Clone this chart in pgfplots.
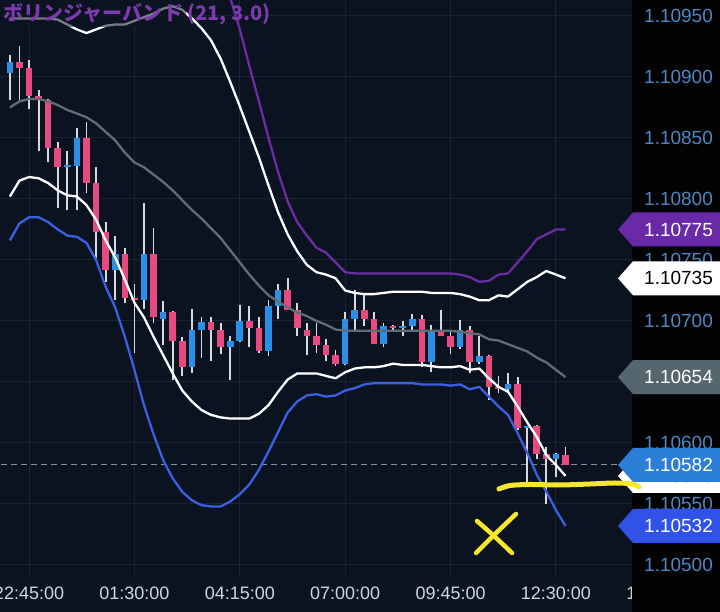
\documentclass[border=0pt]{standalone}
\usepackage{pgfplots}
\pgfplotsset{compat=1.18}
\usepackage{pgfplotstable}
\usepackage{fontspec}
\setmainfont{Liberation Sans}
\newfontfamily\cjk{Noto Sans CJK JP}
\usetikzlibrary{calc}

\definecolor{bg}{HTML}{0B1220}
\definecolor{panel}{HTML}{030303}
\definecolor{gridc}{HTML}{1A2333}
\definecolor{upc}{HTML}{2B8FE8}
\definecolor{dnc}{HTML}{E64A7E}
\definecolor{wick}{HTML}{D6D9DE}
\definecolor{midc}{HTML}{5F6E74}
\definecolor{purp}{HTML}{6A2CA0}
\definecolor{lowb}{HTML}{3B5FE0}
\definecolor{ytl}{HTML}{4F86C4}
\definecolor{xtl}{HTML}{D3D6DC}
\definecolor{titlec}{HTML}{7B3AAE}
\definecolor{tagpurp}{HTML}{6A2AA8}
\definecolor{tagblue}{HTML}{2B7FD6}
\definecolor{taggray}{HTML}{56666E}
\definecolor{tagroyal}{HTML}{3152E6}
\definecolor{dashc}{HTML}{8A9099}
\definecolor{yel}{HTML}{F7E62A}

\newcommand\tagfont{\fontsize{19}{22}\selectfont}
\newcommand\xfont{\fontsize{18}{20}\selectfont}

% up (blue) candles: k open high low close
\pgfplotstableread{
k o h l c
-2 1.10903 1.10918 1.10881 1.10912
4 1.10826 1.10839 1.10791 1.10828
5 1.10827 1.10858 1.10791 1.10850
9 1.10742 1.10770 1.10717 1.10755
12 1.10717 1.10797 1.10710 1.10755
14 1.10702 1.10716 1.10680 1.10707
17 1.10662 1.10710 1.10657 1.10693
18 1.10693 1.10703 1.10670 1.10699
21 1.10679 1.10688 1.10652 1.10684
22 1.10684 1.10713 1.10683 1.10700
25 1.10675 1.10717 1.10671 1.10712
26 1.10712 1.10730 1.10702 1.10725
33 1.10665 1.10707 1.10664 1.10702
34 1.10702 1.10725 1.10693 1.10709
37 1.10681 1.10698 1.10679 1.10696
39 1.10694 1.10700 1.10688 1.10696
40 1.10696 1.10706 1.10693 1.10702
42 1.10666 1.10697 1.10658 1.10693
45 1.10679 1.10701 1.10677 1.10693
47 1.10666 1.10688 1.10665 1.10671
50 1.10644 1.10657 1.10641 1.10648
52 1.10612 1.10614 1.10567 1.10614
55 1.10587 1.10592 1.10572 1.10591
}\upcandles

% down (pink) candles: k open high low close
\pgfplotstableread{
k o h l c
-1 1.10912 1.10925 1.10881 1.10907
0 1.10907 1.10914 1.10874 1.10884
1 1.10884 1.10889 1.10839 1.10882
2 1.10881 1.10882 1.10830 1.10842
3 1.10842 1.10847 1.10793 1.10826
6 1.10850 1.10863 1.10805 1.10813
7 1.10813 1.10826 1.10752 1.10773
8 1.10773 1.10781 1.10732 1.10742
10 1.10755 1.10760 1.10715 1.10719
11 1.10719 1.10730 1.10674 1.10717
13 1.10755 1.10776 1.10698 1.10703
15 1.10707 1.10708 1.10652 1.10684
16 1.10684 1.10687 1.10655 1.10662
19 1.10699 1.10703 1.10667 1.10693
20 1.10693 1.10698 1.10673 1.10679
23 1.10700 1.10712 1.10679 1.10694
24 1.10694 1.10703 1.10674 1.10675
27 1.10725 1.10735 1.10709 1.10709
28 1.10709 1.10715 1.10688 1.10694
29 1.10693 1.10698 1.10672 1.10688
30 1.10688 1.10698 1.10674 1.10680
31 1.10680 1.10685 1.10667 1.10672
32 1.10672 1.10676 1.10663 1.10665
35 1.10709 1.10721 1.10696 1.10702
36 1.10702 1.10707 1.10681 1.10681
38 1.10696 1.10697 1.10691 1.10694
41 1.10702 1.10705 1.10662 1.10666
43 1.10693 1.10709 1.10688 1.10688
44 1.10688 1.10691 1.10673 1.10679
46 1.10693 1.10696 1.10657 1.10666
48 1.10671 1.10672 1.10635 1.10646
49 1.10646 1.10655 1.10641 1.10644
51 1.10648 1.10654 1.10611 1.10612
53 1.10614 1.10615 1.10587 1.10591
54 1.10591 1.10597 1.10550 1.10587
56 1.10590 1.10597 1.10582 1.10582
}\dncandles

% Bollinger bands: middle, +2s, -2s, +3s, -3s
\pgfplotstableread{
k mid uw lw up lb
-2 1.10875 1.10948 1.10802 1.10983 1.10766
-1 1.10880 1.10948 1.10815 1.10979 1.10780
0 1.10882 1.10948 1.10818 1.10979 1.10785
1 1.10882 1.10948 1.10817 1.10979 1.10785
2 1.10880 1.10948 1.10813 1.10980 1.10781
3 1.10877 1.10947 1.10807 1.10980 1.10775
4 1.10873 1.10943 1.10803 1.10976 1.10770
5 1.10870 1.10939 1.10802 1.10972 1.10769
6 1.10867 1.10936 1.10795 1.10970 1.10764
7 1.10862 1.10939 1.10783 1.10975 1.10750
8 1.10855 1.10942 1.10766 1.10982 1.10728
9 1.10848 1.10943 1.10752 1.10985 1.10711
10 1.10838 1.10943 1.10734 1.10989 1.10687
11 1.10830 1.10946 1.10715 1.11001 1.10660
12 1.10826 1.10949 1.10703 1.11021 1.10631
13 1.10820 1.10952 1.10687 1.11033 1.10607
14 1.10814 1.10956 1.10672 1.11042 1.10586
15 1.10807 1.10958 1.10657 1.11043 1.10571
16 1.10799 1.10955 1.10643 1.11039 1.10560
17 1.10791 1.10948 1.10634 1.11029 1.10553
18 1.10784 1.10940 1.10627 1.11018 1.10549
19 1.10776 1.10930 1.10623 1.11005 1.10548
20 1.10768 1.10915 1.10621 1.10988 1.10548
21 1.10758 1.10896 1.10620 1.10965 1.10552
22 1.10748 1.10876 1.10620 1.10939 1.10558
23 1.10738 1.10855 1.10620 1.10909 1.10566
24 1.10729 1.10834 1.10624 1.10880 1.10578
25 1.10721 1.10811 1.10631 1.10850 1.10593
26 1.10716 1.10789 1.10642 1.10822 1.10609
27 1.10711 1.10771 1.10652 1.10798 1.10625
28 1.10707 1.10757 1.10657 1.10781 1.10634
29 1.10704 1.10746 1.10657 1.10770 1.10639
30 1.10700 1.10740 1.10657 1.10760 1.10640
31 1.10697 1.10738 1.10655 1.10756 1.10638
32 1.10693 1.10735 1.10653 1.10748 1.10639
33 1.10692 1.10725 1.10658 1.10740 1.10643
34 1.10692 1.10723 1.10661 1.10739 1.10645
35 1.10692 1.10722 1.10662 1.10739 1.10648
36 1.10692 1.10722 1.10662 1.10739 1.10649
37 1.10692 1.10723 1.10663 1.10739 1.10649
38 1.10692 1.10724 1.10665 1.10739 1.10649
39 1.10692 1.10724 1.10664 1.10739 1.10649
40 1.10692 1.10724 1.10664 1.10739 1.10649
41 1.10692 1.10724 1.10664 1.10739 1.10648
42 1.10692 1.10723 1.10663 1.10739 1.10648
43 1.10692 1.10723 1.10662 1.10739 1.10648
44 1.10692 1.10723 1.10662 1.10739 1.10647
45 1.10691 1.10722 1.10663 1.10738 1.10648
46 1.10690 1.10720 1.10660 1.10736 1.10644
47 1.10689 1.10717 1.10661 1.10732 1.10646
48 1.10685 1.10717 1.10653 1.10733 1.10638
49 1.10684 1.10721 1.10646 1.10738 1.10630
50 1.10681 1.10720 1.10642 1.10739 1.10623
51 1.10678 1.10726 1.10630 1.10748 1.10608
52 1.10675 1.10732 1.10617 1.10757 1.10592
53 1.10670 1.10736 1.10605 1.10767 1.10574
54 1.10666 1.10741 1.10590 1.10771 1.10560
55 1.10660 1.10738 1.10582 1.10775 1.10545
56 1.10654 1.10735 1.10573 1.10775 1.10532
}\bands

\newcommand\pricetag[4]{%
  \fill[#2] let \p1=(#1) in (618pt,\y1) -- (633pt,\y1+17pt) -- (720pt,\y1+17pt) -- (720pt,\y1-17pt) -- (633pt,\y1-17pt) -- cycle;
  \path let \p1=(#1) in node[text=#3, font=\tagfont, anchor=west, inner sep=0pt] at (644pt,\y1) {#4};
}

\begin{document}
\begin{tikzpicture}
\useasboundingbox (0pt,0pt) rectangle (720pt,612pt);
\clip (0pt,0pt) rectangle (720pt,612pt);
\fill[bg] (0pt,0pt) rectangle (720pt,612pt);
\node[text=xtl, font=\xfont] at (661.3pt,19pt) {15:15:00};
\fill[panel] (632pt,0pt) rectangle (720pt,612pt);
\begin{axis}[
  at={(0pt,35pt)}, anchor=south west,
  scale only axis, width=632pt, height=577pt,
  xmin=-3.03, xmax=62.94,
  ymin=1.1049016, ymax=1.109631,
  axis line style={draw=none},
  major tick length=0pt,
  grid=major, grid style={gridc, line width=1pt},
  xtick={0,11,22,33,44,55},
  xticklabels={22:45:00,01:30:00,04:15:00,07:00:00,09:45:00,12:30:00},
  xticklabel style={text=xtl, font=\xfont, anchor=center, yshift=-16pt},
  ytick={1.105,1.1055,1.106,1.1065,1.107,1.1075,1.108,1.1085,1.109,1.1095},
  scaled y ticks=false,
  yticklabel pos=right,
  yticklabel style={text=ytl, font=\tagfont, anchor=west, inner sep=0pt, xshift=12pt,
    /pgf/number format/.cd, fixed, fixed zerofill, precision=5},
  /pgf/number format/assume math mode=true,
]
\draw[dashc, line width=1.1pt, dash pattern=on 6pt off 4pt] (axis cs:-5,1.10582) -- (axis cs:70,1.10582);
% wicks
\addplot[draw=none, mark=none, forget plot, error bars/.cd, y dir=plus, y explicit, error mark=none,
  error bar style={draw=wick, line width=1.8pt}]
  table[x=k, y=l, y error expr=\thisrow{h}-\thisrow{l}] {\upcandles};
\addplot[draw=none, mark=none, forget plot, error bars/.cd, y dir=plus, y explicit, error mark=none,
  error bar style={draw=wick, line width=1.8pt}]
  table[x=k, y=l, y error expr=\thisrow{h}-\thisrow{l}] {\dncandles};
% bodies
\addplot[draw=none, mark=none, forget plot, error bars/.cd, y dir=plus, y explicit, error mark=none,
  error bar style={draw=upc, line width=6.6pt}]
  table[x=k, y=o, y error expr=\thisrow{c}-\thisrow{o}] {\upcandles};
\addplot[draw=none, mark=none, forget plot, error bars/.cd, y dir=plus, y explicit, error mark=none,
  error bar style={draw=dnc, line width=6.6pt}]
  table[x=k, y=c, y error expr=\thisrow{o}-\thisrow{c}] {\dncandles};
% bands
\addplot[midc, line width=2.3pt, mark=none, line join=round] table[x=k, y=mid] {\bands};
\addplot[purp, line width=2.3pt, mark=none, line join=round] table[x=k, y=up] {\bands};
\addplot[lowb, line width=2.3pt, mark=none, line join=round] table[x=k, y=lb] {\bands};
\addplot[white, line width=2.3pt, mark=none, line join=round] table[x=k, y=lw] {\bands};
\addplot[white, line width=2.3pt, mark=none, line join=round] table[x=k, y=uw] {\bands};
\coordinate (tP) at (axis cs:0,1.10775);
\coordinate (tW) at (axis cs:0,1.10735);
\coordinate (tG) at (axis cs:0,1.10654);
\coordinate (tB) at (axis cs:0,1.10582);
\coordinate (tH) at (axis cs:0,1.10573);
\coordinate (tR) at (axis cs:0,1.10532);
\end{axis}
% title with translucent backing
\fill[bg, opacity=0.55] (0pt,585pt) rectangle (186pt,612pt);
\node[anchor=base west, inner sep=0pt, text=titlec, font=\cjk\bfseries\fontsize{20}{24}\selectfont] at (3pt,591pt) {ボリンジャーバンド (21, 3.0)};
% price tags
\pricetag{tP}{tagpurp}{white}{1.10775}
\pricetag{tW}{white}{black}{1.10735}
\pricetag{tG}{taggray}{white}{1.10654}
\pricetag{tH}{white}{black}{1.10573}
\pricetag{tB}{tagblue}{white}{1.10582}
\pricetag{tR}{tagroyal}{white}{1.10532}
% hand-drawn yellow annotations
\draw[yel, line width=5pt, line cap=round] plot[smooth] coordinates {(499pt,123pt) (510pt,126.5pt) (530pt,127.5pt) (560pt,127pt) (590pt,128pt) (615pt,129pt) (632pt,128pt) (639pt,125pt)};
\draw[yel, line width=4.5pt, line cap=round] plot[smooth] coordinates {(476pt,59pt) (494pt,77pt) (516pt,98pt)};
\draw[yel, line width=4.5pt, line cap=round] plot[smooth] coordinates {(477pt,91pt) (494pt,76pt) (512pt,59pt)};
\end{tikzpicture}
\end{document}
